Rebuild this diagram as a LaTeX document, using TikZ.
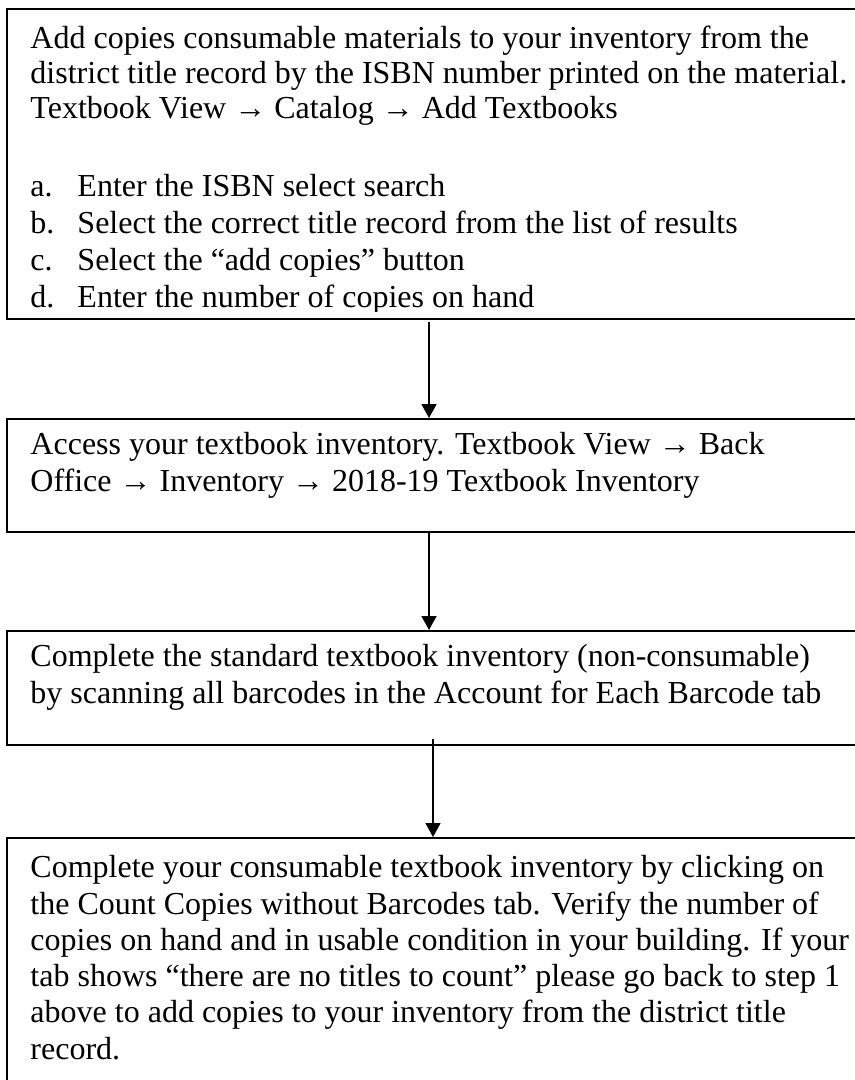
\documentclass[tikz,border=0pt]{standalone}
\usepackage{fontspec}
\setmainfont{Liberation Serif}
\usetikzlibrary{arrows.meta,positioning}
\newcommand*\stepitem[2]{\makebox[18.8pt][l]{#1}#2}

\begin{document}
\begin{tikzpicture}[x=0.4pt,y=-0.4pt,>={Triangle[width=6pt,length=5.6pt]},
	stepbox/.style={draw,line width=0.8pt,inner sep=0pt,minimum width=340.8pt},
	steptext/.style={anchor=base west,inner sep=0pt,align=left,font=\fontsize{12.8}{14.5}\selectfont}]
	\useasboundingbox (0,0) rectangle (854,1080);
	\node (b1) [stepbox,minimum height=124pt,anchor=north west] at (6,8) {};
	\node (b2) [stepbox,minimum height=45.2pt,below=39.2pt of b1] {};
	\node (b3) [stepbox,minimum height=45.6pt,below=38.8pt of b2] {};
	\node (b4) [stepbox,minimum height=107.6pt,below=36.4pt of b3] {};

	% text sits on the baseline of its last line
	\begin{scope}
		\clip (b1.north west) rectangle ([yshift=3.6pt]b1.south east);
		\node (t1) [steptext,font=\fontsize{12.8}{14}\selectfont] at ([shift={(24,110)}]b1.north west) {
			Add copies consumable materials to your inventory from the\\
			district title record by the ISBN number printed on the material.\\
			Textbook View \textrightarrow{} Catalog \textrightarrow{} Add Textbooks
		};
		\node (l1) [steptext,font=\fontsize{12.8}{14.7}\selectfont] at ([shift={(24,299)}]b1.north west) {
			\stepitem{a.}{Enter the ISBN select search}\\
			\stepitem{b.}{Select the correct title record from the list of results}\\
			\stepitem{c.}{Select the “add copies” button}\\
			\stepitem{d.}{Enter the number of copies on hand}
		};
	\end{scope}
	\node (t2) [steptext] at ([shift={(24,73)}]b2.north west) {
		Access your textbook inventory. Textbook View \textrightarrow{} Back\\
		Office \textrightarrow{} Inventory \textrightarrow{} 2018-19 Textbook Inventory
	};
	\node (t3) [steptext] at ([shift={(24,73)}]b3.north west) {
		Complete the standard textbook inventory (non-consumable)\\
		by scanning all barcodes in the Account for Each Barcode tab
	};
	\node (t4) [steptext] at ([shift={(24,222)}]b4.north west) {
		Complete your consumable textbook inventory by clicking on\\
		the Count Copies without Barcodes tab. Verify the number of\\
		copies on hand and in usable condition in your building. If your\\
		tab shows “there are no titles to count” please go back to step 1\\
		above to add copies to your inventory from the district title\\
		record.
	};

	\path[->,line width=0.7pt] ([xshift=-1.6pt,yshift=-0.8pt]b1.south) edge ([xshift=-1.6pt]b2.north);
	\path[->,line width=0.7pt] ([xshift=-1.6pt]b2.south) edge ([xshift=-1.6pt]b3.north);
	\path[->,line width=0.7pt] ([yshift=2.8pt]b3.south) edge (b4.north);
\end{tikzpicture}
\end{document}
